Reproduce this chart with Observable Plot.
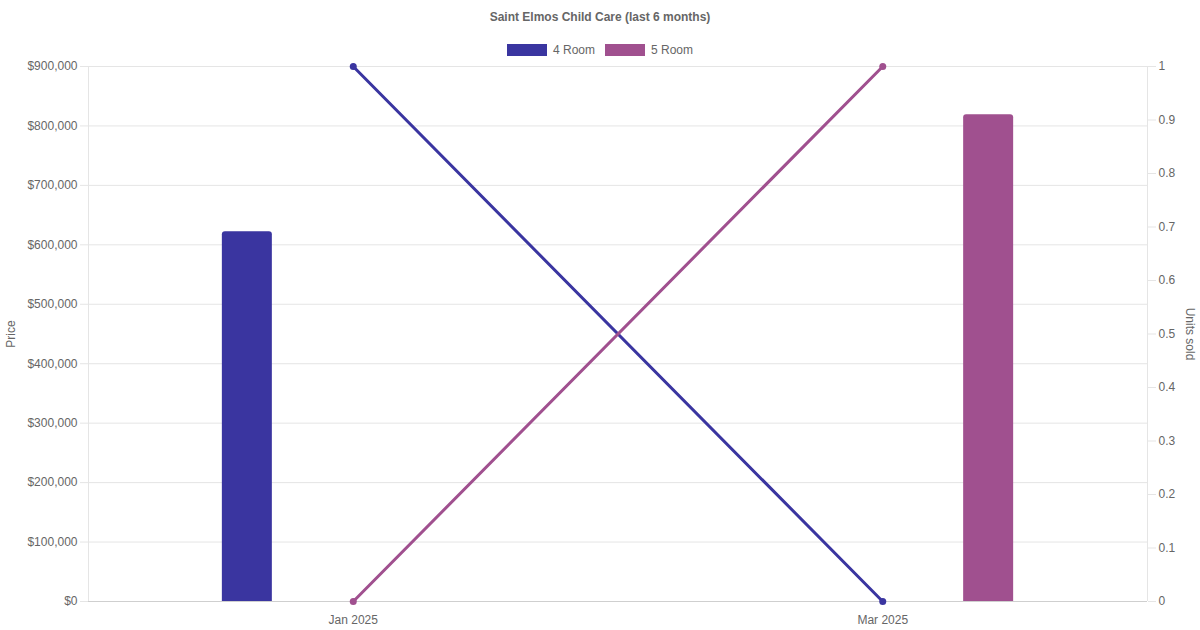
<!DOCTYPE html>
<html>
<head>
<meta charset="utf-8">
<script src="https://cdn.jsdelivr.net/npm/d3@7"></script>
<script src="https://cdn.jsdelivr.net/npm/@observablehq/plot@0.6"></script>
<style>
  html, body { margin: 0; padding: 0; background: #fff; }
  body { width: 1200px; height: 630px; overflow: hidden; font-family: "Liberation Sans", Arial, sans-serif; color: #666; }
  #title { height: 34px; line-height: 34px; text-align: center; font-size: 12px; font-weight: bold; color: #666; }
  #legend { height: 12px; margin-top: 10px; display: flex; justify-content: center; align-items: center; font-size: 12px; color: #666; }
  .item { display: flex; align-items: center; margin: 0 5px; }
  .swatch { width: 40px; height: 12px; margin-right: 6px; box-sizing: border-box; }
  #chart svg { display: block; }
</style>
</head>
<body>
<div id="title">Saint Elmos Child Care (last 6 months)</div>
<div id="legend"></div>
<div id="chart"></div>
<script>
const categories = ["Jan 2025", "Mar 2025"];
const series = ["4 Room", "5 Room"];
const colors = ["#3a35a0", "#a0508f"];
const price4Room = [622000, null];
const price5Room = [null, 819000];
const units4Room = [1, 0];
const units5Room = [0, 1];
const priceTicks = [0, 100000, 200000, 300000, 400000, 500000, 600000, 700000, 800000, 900000];
const unitTicks = [0, 0.1, 0.2, 0.3, 0.4, 0.5, 0.6, 0.7, 0.8, 0.9, 1];

const priceMax = priceTicks[priceTicks.length - 1];
const unitMax = unitTicks[unitTicks.length - 1];
const prices = [price4Room, price5Room];
const units = [units4Room, units5Room];

// category slot positions (Chart.js style: 80% category width split among series)
const catPos = categories.map((c, i) => i + 0.5);
const barPos = (i, s) => i + 0.5 + (s - (series.length - 1) / 2) * (0.8 / series.length);

const bars = [];
series.forEach((s, si) => categories.forEach((c, ci) => {
  if (prices[si][ci] != null) bars.push({series: s, pos: barPos(ci, si), price: prices[si][ci]});
}));
const pts = [];
series.forEach((s, si) => categories.forEach((c, ci) => {
  pts.push({series: s, pos: catPos[ci], scaled: units[si][ci] / unitMax * priceMax});
}));

// legend
const legend = document.getElementById("legend");
series.forEach((s, i) => {
  const it = document.createElement("div"); it.className = "item";
  const sw = document.createElement("span"); sw.className = "swatch";
  sw.style.background = colors[i]; sw.style.border = "1px solid " + colors[i];
  const tx = document.createElement("span"); tx.textContent = s;
  it.appendChild(sw); it.appendChild(tx); legend.appendChild(it);
});

const xDomain = [0, categories.length];
const gridColor = "#e5e5e5";

const plot = Plot.plot({
  width: 1200,
  height: 574,
  marginLeft: 88,
  marginRight: 53,
  marginTop: 10,
  marginBottom: 29,
  style: {fontFamily: "Liberation Sans, Arial, sans-serif", fontSize: "12px", color: "#666", background: "#fff", overflow: "visible"},
  x: {domain: xDomain},
  y: {domain: [0, priceMax]},
  color: {domain: series, range: colors},
  marks: [
    Plot.gridY(priceTicks, {stroke: gridColor, strokeOpacity: 1}),
    Plot.ruleX(xDomain, {stroke: gridColor}),
    Plot.axisY(priceTicks, {anchor: "left", tickSize: 8, tickPadding: 3, stroke: gridColor, fill: "#666", tickFormat: d3.format("$,"), label: null}),
    Plot.axisY(unitTicks.map(u => u / unitMax * priceMax), {anchor: "right", tickSize: 8, tickPadding: 3, stroke: gridColor, fill: "#666", tickFormat: v => d3.format("~g")(+(v / priceMax * unitMax).toFixed(4)), label: null}),
    Plot.axisX(catPos, {anchor: "bottom", tickSize: 0, tickPadding: 14, fill: "#666", tickFormat: (v, i) => categories[i], label: null}),
    Plot.rectY(bars, {x1: "pos", x2: "pos", y1: 0, y2: "price", fill: "series", insetLeft: -25, insetRight: -25, insetBottom: -5, rx: 3, clip: true}),
    Plot.ruleY([0], {stroke: "#cfcfcf"}),
    Plot.line(pts, {x: "pos", y: "scaled", z: "series", stroke: "series", strokeWidth: 3}),
    Plot.dot(pts, {x: "pos", y: "scaled", fill: "series", r: 3.5}),
    Plot.text(["Price"], {frameAnchor: "left", textAnchor: "middle", rotate: -90, dx: -77, fill: "#666"}),
    Plot.text(["Units sold"], {frameAnchor: "right", textAnchor: "middle", rotate: 90, dx: 42, fill: "#666"})
  ]
});
document.getElementById("chart").appendChild(plot);
</script>
</body>
</html>
